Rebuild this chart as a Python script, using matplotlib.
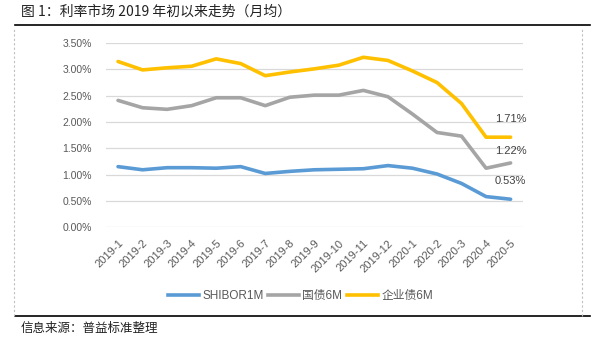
import matplotlib.pyplot as plt
from matplotlib.lines import Line2D
from matplotlib.ticker import FuncFormatter

plt.rcParams['font.family'] = ['Liberation Sans', 'Noto Sans CJK SC', 'DejaVu Sans']

months = ['2019-1', '2019-2', '2019-3', '2019-4', '2019-5', '2019-6', '2019-7', '2019-8',
          '2019-9', '2019-10', '2019-11', '2019-12', '2020-1', '2020-2', '2020-3',
          '2020-4', '2020-5']
shibor_1m = [1.15, 1.09, 1.13, 1.13, 1.12, 1.15, 1.02, 1.06, 1.09, 1.10, 1.11, 1.17,
             1.12, 1.01, 0.83, 0.58, 0.53]
gov_6m = [2.41, 2.27, 2.24, 2.31, 2.46, 2.46, 2.31, 2.47, 2.51, 2.51, 2.60, 2.48,
          2.15, 1.80, 1.73, 1.12, 1.22]
corp_6m = [3.15, 2.99, 3.03, 3.06, 3.20, 3.11, 2.88, 2.95, 3.01, 3.08, 3.23, 3.17,
           2.97, 2.75, 2.35, 1.71, 1.71]
series_names = ['SHIBOR1M', '国债6M', '企业债6M']

colors = ['#5B9BD5', '#A5A5A5', '#FFC000']
txt = '#595959'

fig = plt.figure(figsize=(6.01, 3.42), dpi=100)
ax = fig.add_axes([0.176, 0.336, 0.694, 0.538])

x = list(range(len(months)))
for vals, c in zip([shibor_1m, gov_6m, corp_6m], colors):
    ax.plot(x, vals, color=c, lw=2.6, solid_joinstyle='round', solid_capstyle='round')

# end-of-line value labels
for vals, dy in zip([shibor_1m, gov_6m, corp_6m], [0.35, 0.23, 0.34]):
    ax.text(x[-1], vals[-1] + dy, f'{vals[-1]:.2f}%', fontsize=8,
            color='#404040', ha='center', va='center')

ax.set_ylim(0, 3.5)
ax.set_yticks([0, 0.5, 1.0, 1.5, 2.0, 2.5, 3.0, 3.5])
ax.yaxis.set_major_formatter(FuncFormatter(lambda v, p: f'{v:.2f}%'))
ax.set_xlim(-0.5, len(months) - 0.5)
ax.set_xticks(x)
ax.set_xticklabels(months, rotation=45, ha='right', rotation_mode='anchor')
ax.grid(axis='y', color='#D9D9D9', lw=0.9)
ax.set_axisbelow(True)
ax.tick_params(length=0, labelsize=7.5, colors=txt)
ax.tick_params(axis='x', labelsize=8, pad=8)
ax.tick_params(axis='y', pad=10)
for s in ax.spines.values():
    s.set_visible(False)

handles = [Line2D([], [], color=c, lw=2.6) for c in colors]
fig.legend(handles, series_names, loc='center', bbox_to_anchor=(0.5, 0.135), ncol=3,
           frameon=False, fontsize=8.5, labelcolor=txt, handlelength=2.6,
           handletextpad=0.3, columnspacing=0.4)

# frame: title rule, footer rule and dashed sides
fig.add_artist(Line2D([0.025, 0.982], [0.927, 0.927], color='black', lw=1.2))
fig.add_artist(Line2D([0.025, 0.982], [0.076, 0.076], color='black', lw=1.2))
for xs in [0.024, 0.969]:
    fig.add_artist(Line2D([xs, xs], [0.076, 0.915], color='#BFBFBF', lw=0.8, ls=(0, (2, 2))))

fig.text(0.035, 0.965, '图 1：利率市场 2019 年初以来走势（月均）', fontsize=10,
         family=['Noto Sans CJK SC', 'DejaVu Sans'], va='center', color='#222222')
fig.text(0.035, 0.04, '信息来源：普益标准整理', fontsize=9,
         family=['Noto Sans CJK SC', 'DejaVu Sans'], va='center', color='#222222')

fig.savefig('out.png', dpi=100)
